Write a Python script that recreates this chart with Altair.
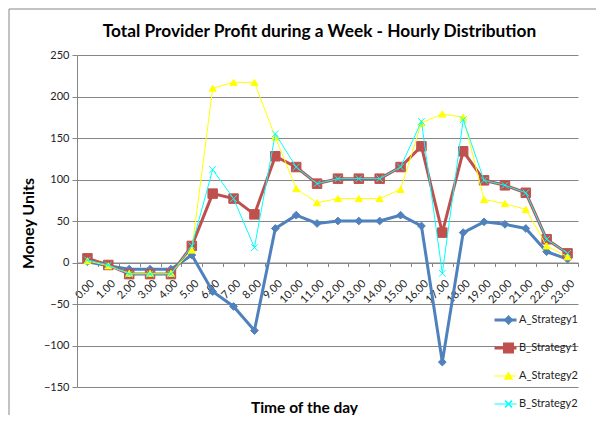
import altair as alt
import pandas as pd

hours = [f"{h}.00" for h in range(24)]
series_names = ["A_Strategy1", "B_Strategy1", "A_Strategy2", "B_Strategy2"]
marker_names = ["mA1", "mB1", "mA2", "mB2"]

a_strategy1 = [1, -4, -8, -8, -8, 9, -35, -53, -82, 41, 57, 47, 50, 50, 50, 57, 44, -120, 36, 49, 46, 41, 13, 4]
b_strategy1 = [5, -3, -14, -14, -14, 20, 83, 77, 58, 128, 115, 95, 101, 101, 101, 115, 140, 36, 134, 99, 93, 84, 28, 11]
a_strategy2 = [2, -4, -13, -13, -13, 15, 210, 217, 217, 151, 89, 72, 77, 77, 77, 88, 168, 179, 175, 76, 71, 64, 20, 7]
b_strategy2 = [3, -3, -14, -14, -14, 20, 112, 77, 18, 155, 115, 95, 101, 101, 101, 115, 170, -13, 172, 99, 93, 84, 28, 11]

colors = ["#4F81BD", "#C0504D", "#FFFF00", "#00FFFF"]
widths = [3, 3, 1, 1]
shapes = ["diamond", "square", "triangle-up", "M-1,-1L1,1M-1,1L1,-1"]
sizes = [60, 90, 50, 45]

rows = []
for name, mname, vals in zip(series_names, marker_names,
                             [a_strategy1, b_strategy1, a_strategy2, b_strategy2]):
    for h, v in zip(hours, vals):
        rows.append({"hour": h, "value": v, "series": name, "marker": mname})
df = pd.DataFrame(rows)

W, H = 501, 332
FONT = "Lato"
GRAY = "#868686"

x_enc = alt.X(
    "hour:N",
    sort=hours,
    bandPosition=0.5,
    scale=alt.Scale(type="band", domain=hours, paddingInner=0, paddingOuter=0),
    axis=alt.Axis(
        title="Time of the day",
        labelAngle=-45,
        labelAlign="right",
        labelBaseline="middle",
        labelOverlap=False,
        labelBound=False,
        labelFlush=False,
        labelPadding=15,
        labelOffset=5,
        tickBand="extent",
        tickSize=4,
        tickColor=GRAY,
        domainColor=GRAY,
        grid=False,
        offset=-(H - H * 250 / 400),
        titleX=227,
        titleY=145,
        titleAlign="center",
        titleBaseline="middle",
        titleFontSize=15.5,
        titleFontWeight="bold",
    ),
)
y_enc = alt.Y(
    "value:Q",
    scale=alt.Scale(domain=[-150, 250], nice=False, zero=False),
    axis=alt.Axis(
        title="Money Units",
        values=list(range(-150, 251, 50)),
        tickSize=5,
        tickColor=GRAY,
        domainColor=GRAY,
        gridColor=GRAY,
        labelPadding=3,
        titleAngle=-90,
        titleX=-49,
        titleY=168,
        titleAlign="center",
        titleBaseline="middle",
        titleFontSize=16,
        titleFontWeight="bold",
    ),
)

line_legend = alt.Legend(
    title=None,
    orient="none",
    legendX=416,
    legendY=251,
    symbolType="stroke",
    symbolSize=484,
    clipHeight=28,
    rowPadding=0,
    labelOffset=1,
    padding=0,
)
color_enc = alt.Color(
    "series:N",
    sort=series_names,
    scale=alt.Scale(domain=series_names, range=colors),
    legend=line_legend,
)
width_enc = alt.StrokeWidth(
    "series:N",
    sort=series_names,
    scale=alt.Scale(type="ordinal", domain=series_names, range=widths),
    legend=line_legend,
)

marker_legend = alt.Legend(
    title=None,
    orient="none",
    legendX=426,
    legendY=251,
    labelExpr="''",
    clipHeight=28,
    rowPadding=0,
    padding=0,
)
fill_enc = alt.Fill("marker:N", sort=marker_names,
                    scale=alt.Scale(domain=marker_names, range=colors), legend=marker_legend)
stroke_enc = alt.Stroke("marker:N", sort=marker_names,
                        scale=alt.Scale(domain=marker_names, range=colors), legend=marker_legend)
shape_enc = alt.Shape("marker:N", sort=marker_names,
                      scale=alt.Scale(domain=marker_names, range=shapes), legend=marker_legend)
size_enc = alt.Size("marker:N", sort=marker_names,
                    scale=alt.Scale(type="ordinal", domain=marker_names, range=sizes),
                    legend=marker_legend)

layers = []
for name in series_names:
    base = alt.Chart(df).transform_filter(alt.datum.series == name)
    layers.append(
        base.mark_line().encode(x=x_enc, y=y_enc, color=color_enc, strokeWidth=width_enc)
    )
    layers.append(
        base.mark_point(filled=True, opacity=1, strokeWidth=1).encode(
            x=x_enc, y=y_enc, fill=fill_enc, stroke=stroke_enc, shape=shape_enc, size=size_enc
        )
    )

frame_data = alt.Data(values=[{"k": 1}])
frame_left = alt.Chart(frame_data).mark_rule(color=GRAY, strokeWidth=1).encode(
    x=alt.value(-68), y=alt.value(-46), y2=alt.value(400)
)
frame_top = alt.Chart(frame_data).mark_rule(color=GRAY, strokeWidth=1).encode(
    x=alt.value(-68), x2=alt.value(560), y=alt.value(-46)
)

chart = (
    alt.layer(frame_left, frame_top, *layers)
    .properties(
        width=W,
        height=H,
        autosize=alt.AutoSizeParams(type="none"),
        padding={"left": 69, "top": 47, "right": 18, "bottom": 28},
        title=alt.TitleParams(
            "Total Provider Profit during a Week - Hourly Distribution",
            anchor="middle",
            frame="group",
            dx=-8,
            dy=46,
            offset=0,
            baseline="alphabetic",
            fontSize=17.3,
            fontWeight="bold",
            font=FONT,
            color="#000000",
        ),
    )
    .configure(font=FONT)
    .configure_view(stroke=None)
    .configure_axis(labelFont=FONT, labelFontSize=11, labelColor="#222222",
                    titleFont=FONT, titleColor="#000000")
    .configure_legend(labelFont=FONT, labelFontSize=11, labelColor="#222222")
)

chart.save("out.html", embed_options={"renderer": "svg", "actions": False})
